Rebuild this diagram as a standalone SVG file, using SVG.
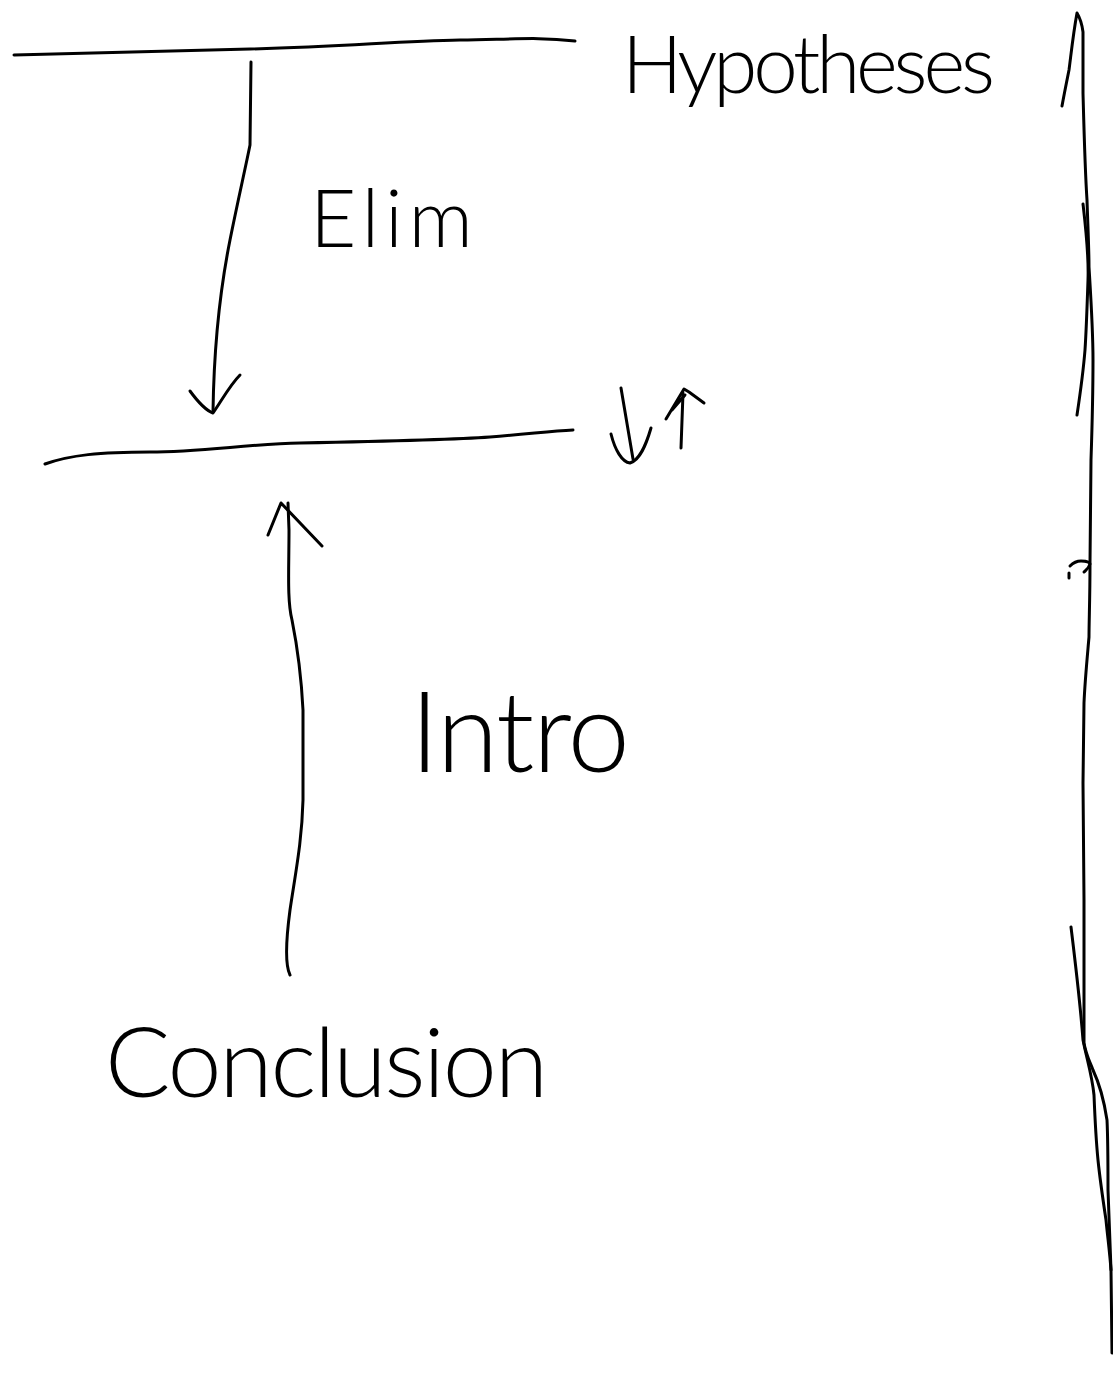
<svg xmlns="http://www.w3.org/2000/svg" width="1113" height="1375" viewBox="0 0 1113 1375">
<style>
.ink{fill:none;stroke:#000;stroke-width:3;stroke-linecap:round;stroke-linejoin:round}
.hand{font-family:Lato,"Open Sans","DejaVu Sans",sans-serif;font-weight:300;fill:#000}
</style>
<rect width="1113" height="1375" fill="#fff"/>
<g id="hypotheses-line"><path class="ink" d="M14,55 C80,54 150,52 250,49 S400,41 460,40 S540,37 575,41"/></g>
<g id="hypotheses"><text class="hand" x="622" y="93" font-size="80" textLength="373" lengthAdjust="spacing">Hypotheses</text></g>
<g id="middle-line"><path class="ink" d="M45,464 C70,455 100,452 150,452 S250,444 300,443 S450,440 490,437 S550,431 573,430"/></g>
<g id="elim-label"><text class="hand" x="310" y="247" font-size="80" textLength="163" lengthAdjust="spacing">Elim</text></g>
<g id="intro-label"><text class="hand" x="410" y="772" font-size="112" textLength="220" lengthAdjust="spacing">Intro</text></g>
<g id="conclusion"><text class="hand" x="105" y="1097" font-size="97" textLength="443" lengthAdjust="spacing">Conclusion</text></g>
<g id="connectors">
<path class="ink" d="M251,62 L250,145 C245,170 238,200 230,240 C220,290 214,340 213,412"/>
<path class="ink" d="M190,391 C198,402 205,410 213,413 C222,400 230,385 240,375"/>
<path class="ink" d="M290,975 C285,965 286,940 290,910 C296,870 302,840 303,800 L303,710 C301,670 296,640 292,620 C287,600 289,570 289,530 L288,503"/>
<path class="ink" d="M268,535 L281,503 L322,546"/>
<path class="ink" d="M621,388 L633,459"/>
<path class="ink" d="M611,434 C615,450 622,462 630,463 C640,460 646,445 651,428"/>
<path class="ink" d="M681,448 L683,393"/>
<path class="ink" d="M666,419 L684,389 L689,392 L704,403 M685,395 L672,410"/>
</g>
<g id="right-strokes">
<path class="ink" d="M1062,106 C1064,95 1067,80 1069,70 C1071,55 1073,35 1077,13 C1080,18 1082,24 1083,32 L1083,93 C1084,130 1085,170 1087,200 C1088,230 1089,250 1089,267 C1091,300 1093,330 1093,360 C1093,390 1092,430 1091,460 L1090,563 C1090,600 1089,620 1089,637 C1087,660 1085,680 1084,703 L1083,783 L1084,900 L1084,1043 C1086,1055 1090,1062 1093,1070 C1100,1085 1104,1100 1107,1120 C1108,1140 1108,1170 1108,1190 C1109,1215 1110,1240 1111,1270 L1112,1353"/>
<path class="ink" d="M1083,204 C1086,230 1089,255 1088,280 C1087,310 1086,335 1085,350 C1083,375 1080,395 1077,415"/>
<path class="ink" d="M1071,927 C1075,960 1080,1000 1083,1040 C1087,1060 1092,1075 1094,1095 C1095,1120 1096,1140 1098,1160 C1100,1180 1103,1200 1106,1220 C1108,1240 1110,1255 1111,1270"/>
<path class="ink" d="M1070,566 C1073,563 1077,561 1081,561 C1086,561 1090,562 1090,564 C1089,568 1086,570 1084,572"/>
<path class="ink" d="M1069,573 L1069,578"/>
</g>
</svg>
